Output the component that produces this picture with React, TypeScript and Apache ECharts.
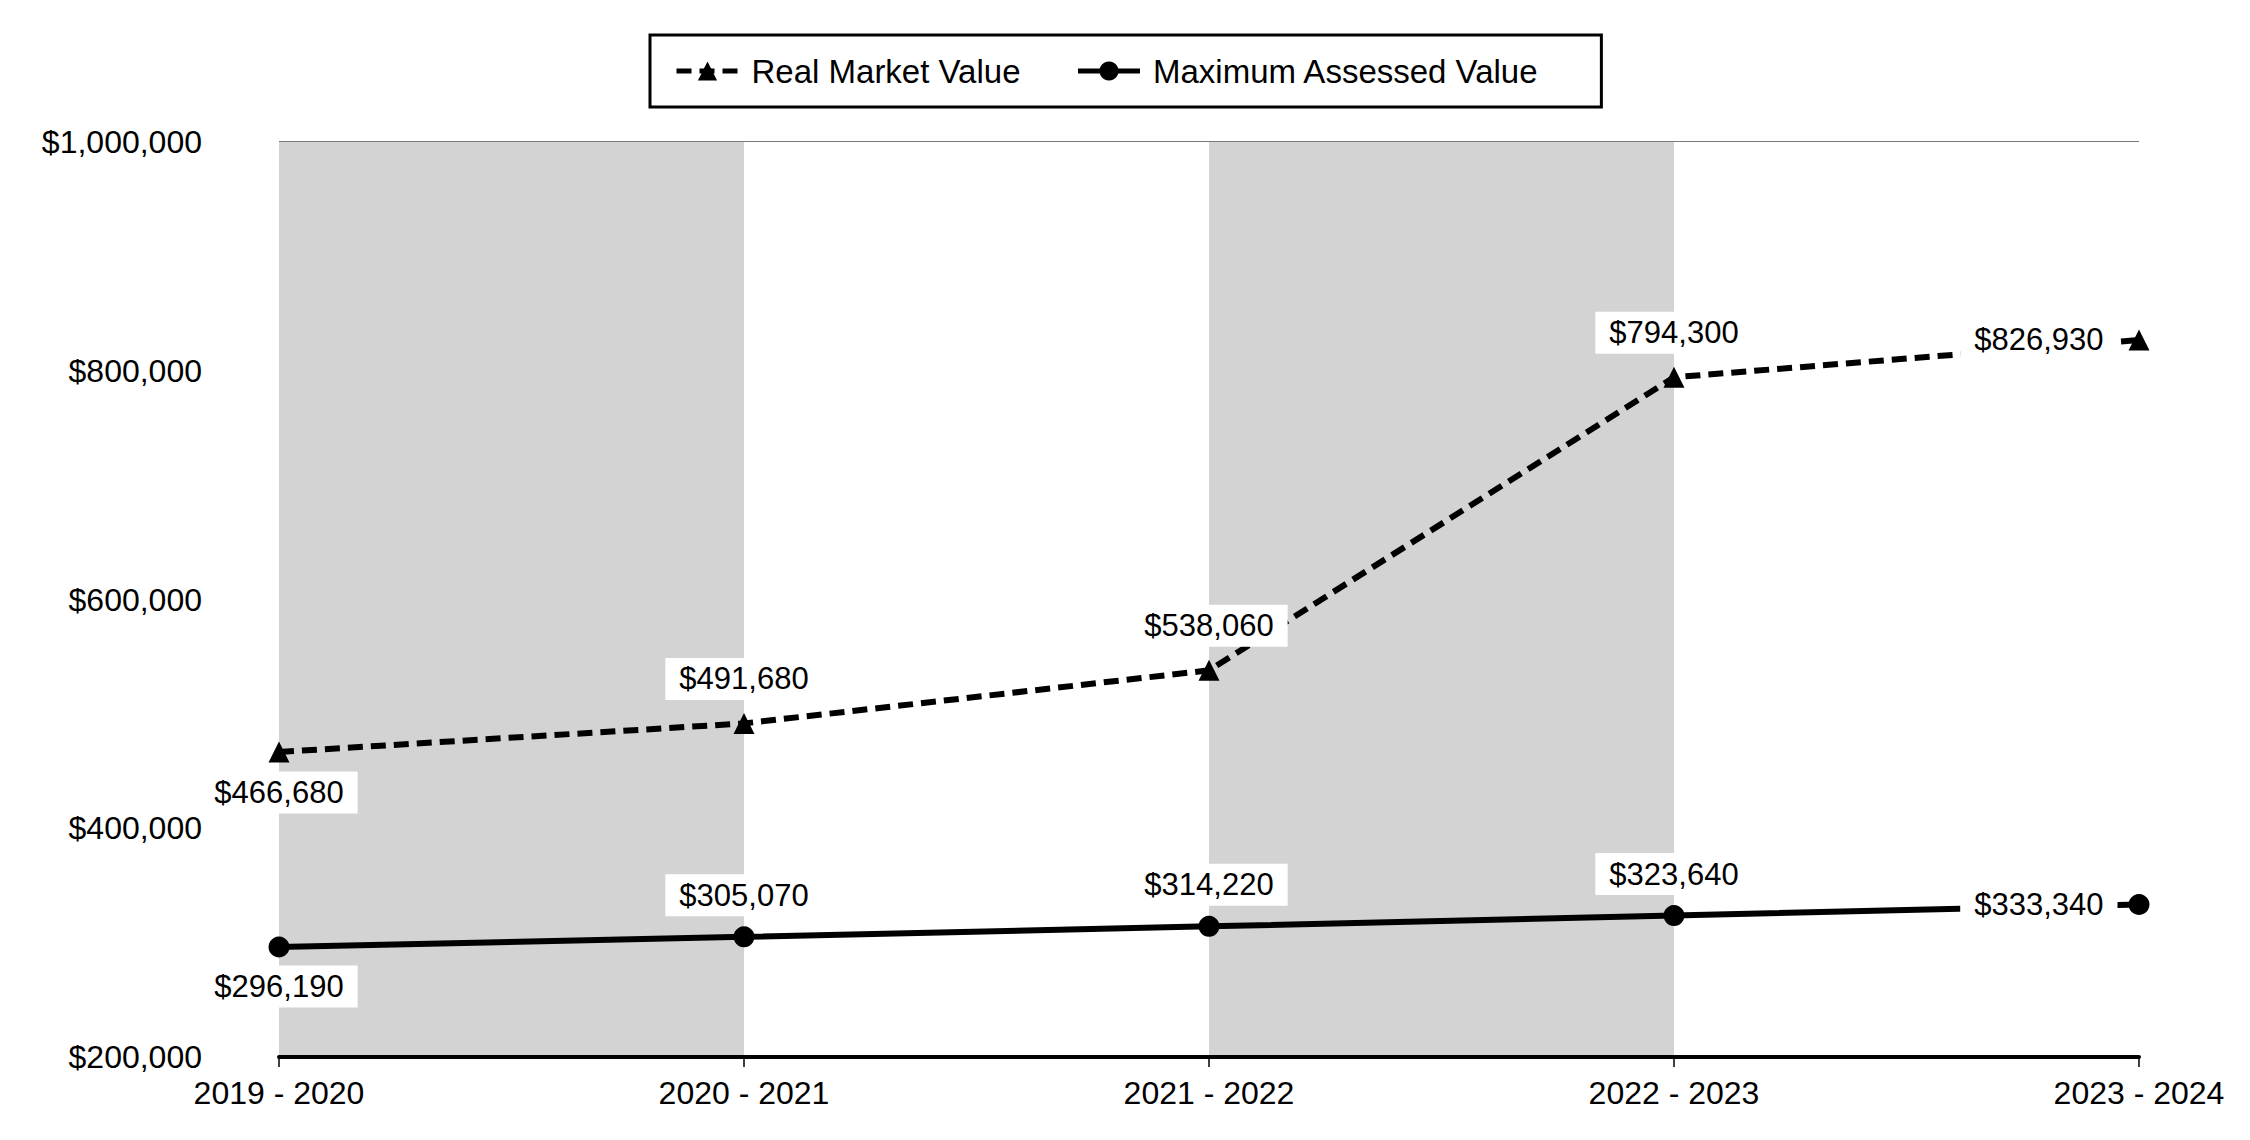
import React, { useEffect, useRef } from "react";
import * as echarts from "echarts";

const categories = ["2019 - 2020", "2020 - 2021", "2021 - 2022", "2022 - 2023", "2023 - 2024"];
const realMarketValue = [466680, 491680, 538060, 794300, 826930];
const maxAssessedValue = [296190, 305070, 314220, 323640, 333340];
const rmvLabelPos = ["bottom", "top", "top", "top", "left"];
const mavLabelPos = ["bottom", "top", "top", "top", "left"];
const yTicks = { min: 200000, max: 1000000, interval: 200000 };

const FONT = "'Liberation Sans', Arial, sans-serif";
const money = (v: number) => "$" + Math.round(v).toLocaleString("en-US");

export default function App() {
  const ref = useRef<HTMLDivElement>(null);
  useEffect(() => {
    if (!ref.current) return;
    const chart = echarts.init(ref.current, null, { renderer: "svg" });
    const labelBase = {
      show: true,
      formatter: (p: any) => money(p.value),
      color: "#000",
      fontFamily: FONT,
      fontSize: 31,
      lineHeight: 36,
      backgroundColor: "#fff",
      padding: [3, 14],
    };
    const mk = (vals: number[], pos: string[], dTop: number, dBottom: number, dLeft: number) =>
      vals.map((v, i) => ({
        value: v,
        label: {
          position: pos[i],
          distance: pos[i] === "top" ? dTop : pos[i] === "bottom" ? dBottom : dLeft,
        },
      }));
    chart.setOption({
      animation: false,
      backgroundColor: "#fff",
      textStyle: { fontFamily: FONT, color: "#000" },
      legend: {
        left: 650,
        top: 35,
        padding: [17, 62, 17, 24],
        borderColor: "#000",
        borderWidth: 3,
        itemWidth: 62,
        itemHeight: 24,
        itemGap: 55,
        lineStyle: { width: 5 },
        textStyle: { fontFamily: FONT, fontSize: 33, lineHeight: 38, color: "#000", padding: [0, 0, 0, 8] },
        data: ["Real Market Value", "Maximum Assessed Value"],
      },
      grid: { left: 279, right: 111, top: 142, bottom: 83, containLabel: false },
      xAxis: {
        type: "category",
        data: categories,
        boundaryGap: false,
        axisLine: { show: true, lineStyle: { color: "#000", width: 4 } },
        axisTick: { show: true, length: 10, lineStyle: { color: "#000", width: 1.5 } },
        axisLabel: { color: "#000", fontFamily: FONT, fontSize: 32, margin: 20 },
        splitLine: { show: false },
        splitArea: { show: true, areaStyle: { color: ["#d3d3d3", "#ffffff"] } },
      },
      yAxis: {
        type: "value",
        min: yTicks.min,
        max: yTicks.max,
        interval: yTicks.interval,
        axisLine: { show: false },
        axisTick: { show: false },
        axisLabel: { color: "#000", fontFamily: FONT, fontSize: 32, margin: 77, formatter: (v: number) => money(v) },
        splitLine: { show: true, lineStyle: { color: "#7a7a7a", width: 2 } },
      },
      series: [
        {
          name: "Real Market Value",
          type: "line",
          data: mk(realMarketValue, rmvLabelPos, 13, 9, 11),
          symbol: "triangle",
          symbolSize: 21,
          itemStyle: { color: "#000" },
          lineStyle: { color: "#000", width: 6, type: [15, 8] },
          label: labelBase,
          z: 3,
        },
        {
          name: "Maximum Assessed Value",
          type: "line",
          data: mk(maxAssessedValue, mavLabelPos, 10, 8, 11),
          symbol: "circle",
          symbolSize: 21,
          itemStyle: { color: "#000" },
          lineStyle: { color: "#000", width: 6 },
          label: labelBase,
          z: 3,
        },
      ],
    });
    return () => chart.dispose();
  }, []);
  return (
    <div
      ref={ref}
      style={{ position: "fixed", left: 0, top: 0, width: 2250, height: 1140, background: "#fff" }}
    />
  );
}
